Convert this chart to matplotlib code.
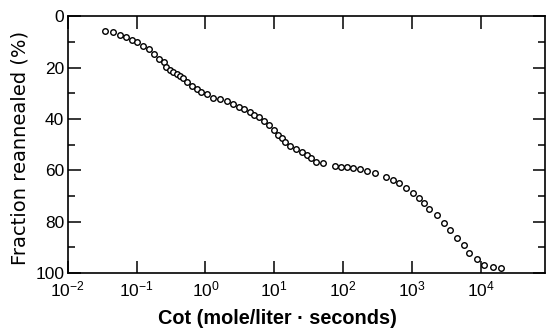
import matplotlib.pyplot as plt
import numpy as np

plt.rcParams['font.family'] = ['Liberation Sans', 'DejaVu Sans']
plt.rcParams['mathtext.default'] = 'regular'

log_cot = [-1.46, -1.35, -1.24, -1.15, -1.07, -0.99, -0.91, -0.82, -0.75, -0.67,
           -0.61, -0.57, -0.52, -0.47, -0.42, -0.37, -0.33, -0.27, -0.20, -0.12,
           -0.06, 0.02, 0.11, 0.21, 0.31, 0.40, 0.49, 0.56, 0.65, 0.71,
           0.78, 0.85, 0.93, 0.99, 1.06, 1.11, 1.16, 1.23, 1.31, 1.40,
           1.47, 1.53, 1.61, 1.71, 1.88, 1.97, 2.06, 2.15, 2.24, 2.34,
           2.47, 2.62, 2.73, 2.81, 2.92, 3.01, 3.10, 3.18, 3.25, 3.36,
           3.47, 3.55, 3.65, 3.75, 3.83, 3.94, 4.05, 4.17, 4.29]
reannealed = [5.7, 6.1, 7.4, 8.3, 9.3, 10.2, 11.5, 12.9, 14.8, 16.6,
              18.0, 19.7, 21.0, 21.9, 22.6, 23.3, 24.2, 25.8, 27.2, 28.5,
              29.5, 30.4, 31.7, 32.4, 33.1, 34.3, 35.3, 36.2, 37.5, 38.5,
              39.4, 40.7, 42.4, 44.4, 46.3, 47.6, 48.9, 50.5, 51.7, 53.0,
              54.1, 55.3, 56.7, 57.3, 58.3, 58.6, 58.9, 59.3, 59.5, 60.2,
              61.2, 62.8, 63.8, 65.1, 66.8, 69.0, 70.6, 72.9, 75.2, 77.4,
              80.4, 83.3, 86.3, 89.1, 92.1, 94.5, 96.9, 97.5, 97.9]

cot = 10 ** np.array(log_cot)
x_ticks = [1e-2, 1e-1, 1e0, 1e1, 1e2, 1e3, 1e4]
x_labels = ['$10^{-2}$', '$10^{-1}$', '$10^{0}$', '$10^{1}$', '$10^{2}$', '$10^{3}$', '$10^{4}$']
y_major = [0, 20, 40, 60, 80, 100]
y_minor = [10, 30, 50, 70, 90]

fig = plt.figure(figsize=(5.47, 3.29), dpi=100)
ax = fig.add_axes([0.124, 0.170, 0.872, 0.781])

ax.plot(cot, reannealed, linestyle='none', marker='o', ms=4,
        mfc='white', mec='black', mew=1.0)

ax.set_xscale('log')
ax.set_xlim(1e-2, 10 ** 4.93)
ax.set_ylim(100, 0)

ax.set_xticks(x_ticks)
ax.set_xticklabels(x_labels)
ax.xaxis.set_minor_locator(plt.NullLocator())
ax.set_yticks(y_major)
ax.set_yticks(y_minor, minor=True)

ax.tick_params(axis='both', which='major', direction='in', length=9, width=1.1,
               labelsize=12.5, top=True, right=True)
ax.tick_params(axis='x', which='major', pad=4.5)
ax.tick_params(axis='y', which='major', pad=2.5, labelright=False)
ax.tick_params(axis='y', which='minor', direction='in', length=5, width=1.1, right=True)

for sp in ax.spines.values():
    sp.set_linewidth(1.2)

ax.set_xlabel('Cot (mole/liter \u00b7 seconds)', fontsize=14.3, fontweight='bold')
ax.xaxis.set_label_coords(0.44, -0.14)
ax.set_ylabel('Fraction reannealed (%)', fontsize=14, family=['DejaVu Sans'])
ax.yaxis.set_label_coords(-0.08, 0.486)

fig.savefig('out.png', dpi=100)
